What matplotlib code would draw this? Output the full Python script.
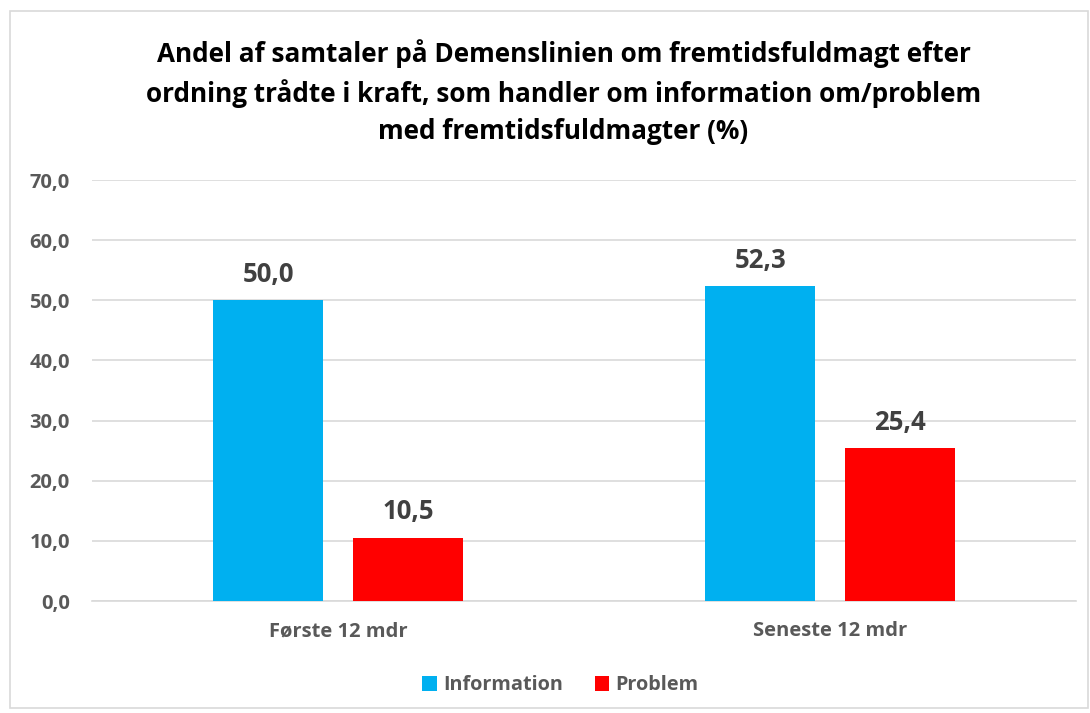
import numpy as np
import matplotlib.pyplot as plt
from matplotlib.patches import Rectangle

categories = ['Første 12 mdr', 'Seneste 12 mdr']
information = [50.0, 52.3]
problem = [10.5, 25.4]
series_names = ['Information', 'Problem']
yticks = [0, 10, 20, 30, 40, 50, 60, 70]

plt.rcParams['font.family'] = ['Open Sans', 'DejaVu Sans']
plt.rcParams['font.weight'] = 'bold'
txt = '#595959'

fig = plt.figure(figsize=(10.9, 7.13), dpi=100)
ax = fig.add_axes([0.0844, 0.157, 0.903, 0.5905])

x = np.arange(len(categories))
w = 0.2236
off = 0.142
b1 = ax.bar(x - off, information, w, color='#00B0F0', label=series_names[0], zorder=3)
b2 = ax.bar(x + off, problem, w, color='#FF0000', label=series_names[1], zorder=3)

for bars in (b1, b2):
    for b in bars:
        h = b.get_height()
        ax.annotate(('%.1f' % h).replace('.', ','), (b.get_x() + b.get_width() / 2, h),
                    xytext=(0, 9), textcoords='offset points', ha='center', va='bottom',
                    fontsize=18.5, fontweight='bold', color='#404040')

ax.set_xlim(-0.5, 1.5)
ax.set_ylim(0, 70)
ax.set_yticks(yticks)
ax.set_yticklabels([('%.1f' % v).replace('.', ',') for v in yticks])
ax.set_xticks(x)
ax.set_xticklabels(categories)
ax.tick_params(axis='y', length=0, pad=16, labelsize=14.5, labelcolor=txt)
ax.tick_params(axis='x', length=0, pad=14.5, labelsize=14.5, labelcolor=txt)
ax.grid(axis='y', color='#D9D9D9', linewidth=1.2, zorder=0)
for s in ['top', 'right', 'left']:
    ax.spines[s].set_visible(False)
ax.spines['bottom'].set_color('#D9D9D9')
ax.spines['bottom'].set_linewidth(1.2)

fig.text(0.517, 0.8705, 'Andel af samtaler på Demenslinien om fremtidsfuldmagt efter\n'
         'ordning trådte i kraft, som handler om information om/problem\n'
         'med fremtidsfuldmagter (%)', ha='center', va='center', fontsize=18.8,
         fontweight='bold', color='black', linespacing=1.48)

fig.legend(handles=[b1, b2], loc='center', bbox_to_anchor=(0.514, 0.039), ncol=2, frameon=False,
           fontsize=14.3, labelcolor=txt, handlelength=0.75, handleheight=0.75,
           handletextpad=0.3, columnspacing=1.6)

fig.patches.append(Rectangle((0.009, 0.007), 0.989, 0.977, transform=fig.transFigure,
                             fill=False, edgecolor='#D9D9D9', linewidth=1.2))

fig.savefig('out.png', dpi=100)
